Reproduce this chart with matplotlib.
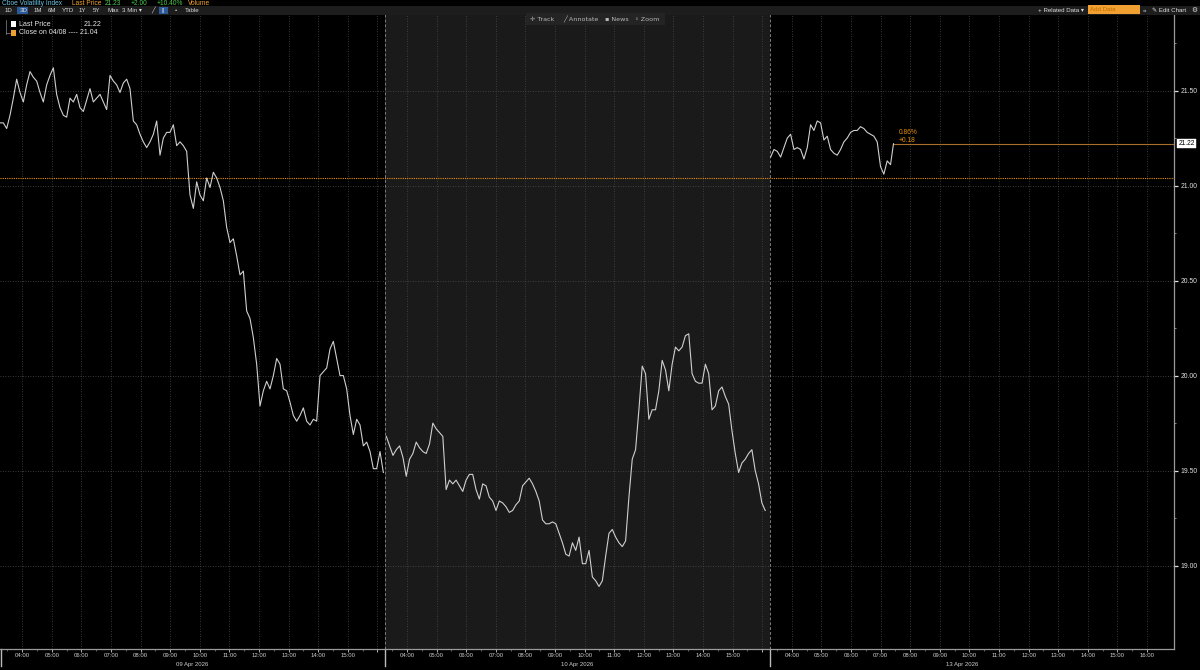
import matplotlib
matplotlib.use('Agg')
import matplotlib.pyplot as plt
import matplotlib.patches as mpatches
import numpy as np
from matplotlib.ticker import FixedLocator, NullFormatter

plt.rcParams['font.family'] = ['Liberation Sans', 'DejaVu Sans']

# ---------------- data ----------------
session_dates = ['09 Apr 2026', '10 Apr 2026', '13 Apr 2026']
session_open = '03:15'
session_hours = 13
session_first = ['03:15', '03:18', '03:17']
session_last = ['16:12', '16:06', '07:20']

day1_close = [21.33, 21.33, 21.30, 21.37, 21.46, 21.56, 21.49, 21.44, 21.53, 21.60,
              21.57, 21.55, 21.49, 21.44, 21.53, 21.58, 21.62, 21.48, 21.41, 21.37,
              21.36, 21.46, 21.44, 21.48, 21.41, 21.39, 21.45, 21.51, 21.44, 21.46,
              21.48, 21.44, 21.40, 21.58, 21.55, 21.53, 21.49, 21.54, 21.56, 21.51,
              21.34, 21.32, 21.27, 21.23, 21.20, 21.23, 21.27, 21.34, 21.16, 21.25,
              21.28, 21.28, 21.32, 21.21, 21.23, 21.21, 21.18, 20.95, 20.88, 21.02,
              20.95, 20.92, 21.04, 20.99, 21.07, 21.04, 20.99, 20.92, 20.78, 20.70,
              20.72, 20.63, 20.53, 20.55, 20.34, 20.30, 20.20, 20.06, 19.84, 19.92,
              19.97, 19.93, 20.00, 20.09, 20.06, 19.93, 19.92, 19.86, 19.79, 19.76,
              19.79, 19.83, 19.76, 19.74, 19.77, 19.76, 20.00, 20.02, 20.04, 20.14,
              20.18, 20.09, 20.00, 20.00, 19.93, 19.79, 19.69, 19.77, 19.74, 19.63,
              19.65, 19.60, 19.51, 19.51, 19.60, 19.49]

day2_close = [19.68, 19.63, 19.58, 19.61, 19.63, 19.57, 19.47, 19.56, 19.59, 19.65,
              19.62, 19.60, 19.59, 19.64, 19.75, 19.72, 19.70, 19.68, 19.40, 19.45,
              19.43, 19.45, 19.42, 19.39, 19.45, 19.48, 19.48, 19.40, 19.35, 19.43,
              19.42, 19.36, 19.34, 19.29, 19.34, 19.33, 19.31, 19.28, 19.29, 19.32,
              19.34, 19.42, 19.44, 19.46, 19.43, 19.39, 19.34, 19.24, 19.22, 19.22,
              19.23, 19.22, 19.17, 19.12, 19.06, 19.05, 19.12, 19.08, 19.15, 19.01,
              19.01, 19.08, 18.94, 18.92, 18.89, 18.92, 19.05, 19.17, 19.19, 19.15,
              19.12, 19.10, 19.13, 19.36, 19.56, 19.61, 19.82, 20.05, 20.01, 19.77,
              19.82, 19.82, 19.92, 20.08, 20.03, 19.92, 20.06, 20.15, 20.13, 20.15,
              20.21, 20.22, 20.01, 19.97, 19.96, 19.96, 20.06, 20.01, 19.82, 19.84,
              19.92, 19.94, 19.89, 19.85, 19.71, 19.59, 19.49, 19.54, 19.56, 19.59,
              19.61, 19.50, 19.43, 19.33, 19.29]

day3_close = [21.15, 21.19, 21.18, 21.15, 21.20, 21.25, 21.27, 21.19, 21.20, 21.19,
              21.14, 21.20, 21.32, 21.29, 21.34, 21.33, 21.24, 21.26, 21.19, 21.17,
              21.16, 21.19, 21.23, 21.25, 21.28, 21.29, 21.29, 21.31, 21.30, 21.28,
              21.27, 21.26, 21.23, 21.10, 21.06, 21.13, 21.11]

last_price = 21.22
last_time = '07:26'
prev_close = 21.04
prev_close_label = 'Close on 04/08'

y_ticks = [19.00, 19.50, 20.00, 20.50, 21.00, 21.50]
hour_ticks = [4, 5, 6, 7, 8, 9, 10, 11, 12, 13, 14, 15, 16]

# ---------------- helpers ----------------
W, H = 1200, 670


def hh(s):
    h, m = s.split(':')
    return int(h) + int(m) / 60.0


def sx(session, hour):
    return session * session_hours + hour - hh(session_open)


def fig_text(xpx, ypx, s, **kw):
    kw.setdefault('va', 'center')
    return fig.text(xpx / W, 1 - ypx / H, s, **kw)


def fig_rect(x0, y0, x1, y1, **kw):
    r = mpatches.Rectangle((x0 / W, 1 - y1 / H), (x1 - x0) / W, (y1 - y0) / H,
                           transform=fig.transFigure, **kw)
    fig.patches.append(r)
    return r


fig = plt.figure(figsize=(12, 6.7), dpi=100, facecolor='black')
ax = fig.add_axes([0, 1 - 649 / H, 1174 / W, (649 - 14) / H])
ax.set_facecolor('black')

XMAX = 39.66
ax.set_xlim(0, XMAX)
ax.set_ylim(18.561, 21.903)

# day 2 shading
ax.axvspan(sx(1, hh(session_open)), sx(2, hh(session_open)), color='#1a1a1a', lw=0, zorder=0)

# grid
for s in range(3):
    for h in hour_ticks:
        ax.axvline(sx(s, h), color='#4a4a4a', lw=0.6, ls=(0, (1, 2)), zorder=1)
for v in y_ticks:
    ax.axhline(v, color='#4e4e4e', lw=0.6, ls=(0, (1, 2)), zorder=1)

# session separators
for s in (1, 2):
    ax.axvline(sx(s, hh(session_open)), color='#7a7a7a', lw=0.7, ls=(0, (3, 2)), zorder=2)
    ax.plot([sx(s, hh(session_open))] * 2, [0, -0.026], transform=ax.get_xaxis_transform(),
            color='#bbbbbb', lw=1.0, clip_on=False)
ax.plot([0.0005, 0.0005], [0, -0.026], transform=ax.transAxes, color='#bbbbbb', lw=1.0, clip_on=False)

# previous close line
ax.axhline(prev_close, color='#e8900c', lw=0.8, ls=(0, (1, 1)), zorder=3)

# price series
series = [day1_close, day2_close, day3_close]
line_color = '#cfcfcf'
for s, vals in enumerate(series):
    t = np.linspace(sx(s, hh(session_first[s])), sx(s, hh(session_last[s])), len(vals))
    if s == 2:
        t = np.append(t, sx(2, hh(last_time)))
        vals = list(vals) + [last_price]
    ax.plot(t, vals, color=line_color, lw=0.8, zorder=4)

# last price extension
t_last = sx(2, hh(last_time))
ax.plot([t_last, XMAX], [last_price, last_price], color='#a8702c', lw=0.8, zorder=3)

chg = last_price - prev_close
pct = chg / prev_close * 100
ax.annotate(f'{pct:.2f}%', xy=(t_last, last_price), xytext=(4, 8), textcoords='offset points',
            color='#e8900c', fontsize=4.8, ha='left', va='center')
ax.annotate(f'{chg:+.2f}', xy=(t_last, last_price), xytext=(4, 2.5), textcoords='offset points',
            color='#e8900c', fontsize=4.8, ha='left', va='center')

# last price tag on the axis
ax.annotate(f'{last_price:.2f}', xy=(1, last_price), xycoords=('axes fraction', 'data'),
            xytext=(3.2, 0), textcoords='offset points', ha='left', va='center',
            fontsize=4.8, color='black',
            bbox=dict(boxstyle='square,pad=0.18', fc='white', ec='white', lw=0.3))

# axes styling
for side in ('left', 'top'):
    ax.spines[side].set_visible(False)
ax.spines['right'].set_color('#9a9a9a')
ax.spines['right'].set_linewidth(0.9)
ax.spines['bottom'].set_color('#9a9a9a')
ax.spines['bottom'].set_linewidth(0.9)

ax.yaxis.tick_right()
ax.set_yticks(y_ticks)
ax.set_yticklabels([f'{v:.2f}' for v in y_ticks])
ax.yaxis.set_minor_locator(FixedLocator([19.25, 19.75, 20.25, 20.75, 21.25, 21.75]))
ax.tick_params(axis='y', which='major', colors='#e0e0e0', labelsize=4.9, length=3, width=0.9,
               pad=1.5, direction='out')
ax.tick_params(axis='y', which='minor', colors='#9a9a9a', length=1.5, width=0.6)

xt, xl = [], []
xminor = []
for s in range(3):
    for h in hour_ticks:
        xt.append(sx(s, h))
        xl.append(f'{h:02d}:00' if (h < 16 or s == 2) else '')
        xminor.append(sx(s, h - 0.5))
ax.set_xticks(xt)
ax.set_xticklabels(xl)
ax.xaxis.set_minor_locator(FixedLocator(xminor))
ax.xaxis.set_minor_formatter(NullFormatter())
ax.tick_params(axis='x', which='major', colors='#cfcfcf', labelsize=4.3, length=2, width=0.6, pad=0.8)
ax.tick_params(axis='x', which='minor', colors='#8a8a8a', length=1.2, width=0.5)

for s, d in enumerate(session_dates):
    ax.text(sx(s, hh(session_open) + session_hours / 2), -0.025, d, transform=ax.get_xaxis_transform(),
            ha='center', va='center', color='#cfcfcf', fontsize=4.3)

# ---------------- header / toolbar ----------------
fig_rect(0, 6.5, W, 14.5, color='#1d1d1d', lw=0)
hdr = [(2, 'Cboe Volatility Index', '#6cc4e4'), (72, 'Last Price', '#f0a030'),
       (105, '21.23', '#4cc94c'), (131, '+2.00', '#4cc94c'), (157, '+10.40%', '#4cc94c'),
       (188, 'Volume', '#f0a030')]
for x, s, c in hdr:
    fig_text(x, 3.2, s, color=c, fontsize=4.8, ha='left')

fig_rect(17, 7, 27.5, 14, color='#2a5a9a', lw=0)
fig_rect(159, 7, 168, 14, color='#2a5a9a', lw=0)
btns = [(4.5, '1D'), (19.5, '3D'), (34, '1M'), (48, '6M'), (61.5, 'YTD'), (79, '1Y'), (93, '5Y'),
        (107, 'Max'), (122, '3 Min ▾'), (151, '╱'), (161, '||'), (175, '•'), (185, 'Table')]
for x, s in btns:
    fig_text(x, 10.4, s, color='#d8d8d8', fontsize=4.4, ha='left')

fig_text(1038, 10.2, '+ Related Data ▾', color='#e0e0e0', fontsize=4.4, ha='left')
fig_rect(1088, 5.5, 1140, 13.5, color='#f0a030', lw=0)
fig_text(1090, 9.8, 'Add Data', color='#c46a00', fontsize=4.4, ha='left')
fig_text(1143, 10.2, '«', color='#e0e0e0', fontsize=4.6, ha='left')
fig_text(1152, 10.2, '✎ Edit Chart', color='#e0e0e0', fontsize=4.4, ha='left')
fig_text(1191, 10.2, '⚙', color='#e0e0e0', fontsize=4.8, ha='left')

# center toolbar
fig_rect(526, 13.5, 665, 25, color='#242424', lw=0)
for x, s in [(530, '✛ Track'), (563, '╱ Annotate'), (605, '▪ News'), (635, '◦ Zoom')]:
    fig_text(x, 19.3, s, color='#b8b8b8', fontsize=4.6, ha='left', family=['DejaVu Sans'])

# legend
fig_rect(11, 21.5, 16, 26.5, color='white', lw=0)
fig_rect(11, 30.5, 16, 35.5, color='#f0a030', lw=0)
fig_text(19, 24.3, 'Last Price', color='#e8e8e8', fontsize=5.0, ha='left')
fig_text(101, 24.3, f'{last_price:.2f}', color='#e8e8e8', fontsize=5.0, ha='right')
fig_text(19, 33.0, f'{prev_close_label} ---- {prev_close:.2f}', color='#e8e8e8', fontsize=5.0, ha='left')
fig.lines.append(plt.Line2D([6 / W, 6 / W], [1 - 20 / H, 1 - 34 / H], transform=fig.transFigure,
                            color='#8a8a8a', lw=0.5))
fig.lines.append(plt.Line2D([6 / W, 10 / W], [1 - 33 / H, 1 - 33 / H], transform=fig.transFigure,
                            color='#8a8a8a', lw=0.5))

fig.savefig('out.png', dpi=100, facecolor='black')
